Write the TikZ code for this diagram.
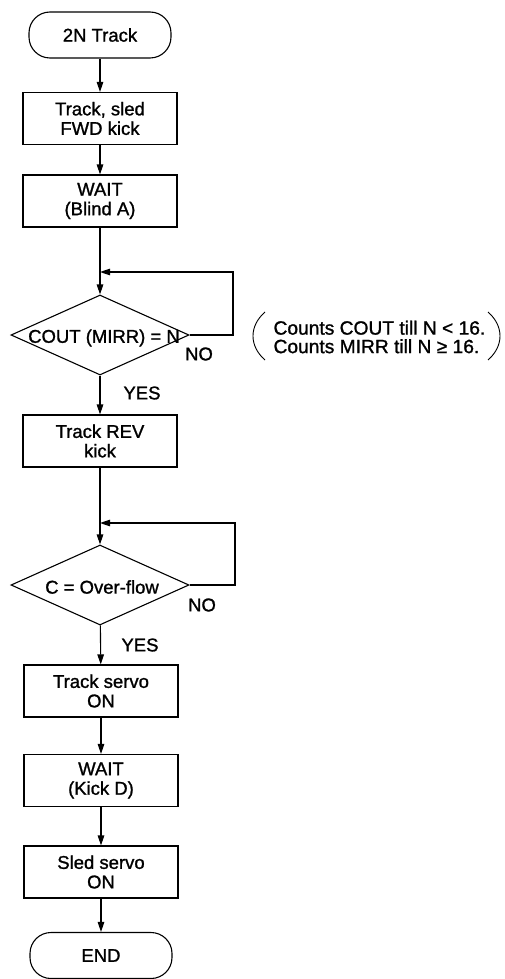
\documentclass[tikz,border=0pt]{standalone}
\usepackage{fontspec}
\setmainfont{Liberation Sans}[RawFeature={embolden=1.2}]
\usetikzlibrary{shapes.geometric,arrows.meta}
\begin{document}
\begin{tikzpicture}[x=1pt,y=-1pt,
  line width=1.1pt,
  every node/.style={font=\fontsize{18.5}{19.5}\selectfont},
  term/.style={draw,rounded corners=21pt,minimum width=142pt,minimum height=46pt,inner sep=0pt},
  stepbox/.style={draw,minimum width=154pt,minimum height=52pt,inner sep=0pt,align=center},
  dia/.style={draw,diamond,minimum width=178pt,minimum height=80pt,inner sep=0pt},
  lbl/.style={inner sep=0pt},
  arr/.style={-{Triangle[length=10pt,width=6.5pt]}}]
\useasboundingbox (0,0) rectangle (505,979);
\node[term] (start) at (100,35) {2N Track};
\node[stepbox] (b1) at (100,118.5) {Track, sled\\FWD kick};
\node[stepbox] (b2) at (100,201) {WAIT\\(Blind A)};
\coordinate (j1) at (100,272);
\coordinate (c1) at (233,272);
\node[dia] (d1) at (100,335) {};
\node[lbl] (d1t) at (104,338) {COUT (MIRR) = N};
\node[lbl] (no1) at (199,354) {NO};
\node[lbl] (yes1) at (142,393) {YES};
\node[lbl,anchor=west,align=left,font=\fontsize{19.2}{18.5}\selectfont] (note) at (273,337) {Counts COUT till N < 16.\\Counts MIRR till N ≥ 16.};
\node[stepbox] (b3) at (100,441) {Track REV\\kick};
\coordinate (j2) at (100,523);
\coordinate (c2) at (235,523);
\node[dia] (d2) at (100,585) {};
\node[lbl] (d2t) at (102,587) {C = Over-flow};
\node[lbl] (no2) at (202,605) {NO};
\node[lbl] (yes2) at (140,645) {YES};
\node[stepbox] (b4) at (101,691) {Track servo\\ON};
\node[stepbox] (b5) at (101,780.5) {WAIT\\(Kick D)};
\node[stepbox] (b6) at (101,872) {Sled servo\\ON};
\node[term] (end) at (101,955.5) {END};
\draw[arr] (start) -- (b1);
\draw[arr] (b1) -- (b2);
\draw[arr] (b2) -- (d1);
\draw[arr] (d1.east) -| (c1) -- (j1);
\draw[arr] (d1) -- (b3);
\draw[arr] (b3) -- (d2);
\draw[arr] (d2.east) -| (c2) -- (j2);
\draw[arr] (d2) -- (b4);
\draw[arr] (b4) -- (b5);
\draw[arr] (b5) -- (b6);
\draw[arr] (b6) -- (end);
\draw[line width=0.9pt] (265,312) .. controls (249,326) and (249,346) .. (265,360);
\draw[line width=0.9pt] (488,312) .. controls (504,326) and (504,346) .. (488,360);
\end{tikzpicture}
\end{document}
